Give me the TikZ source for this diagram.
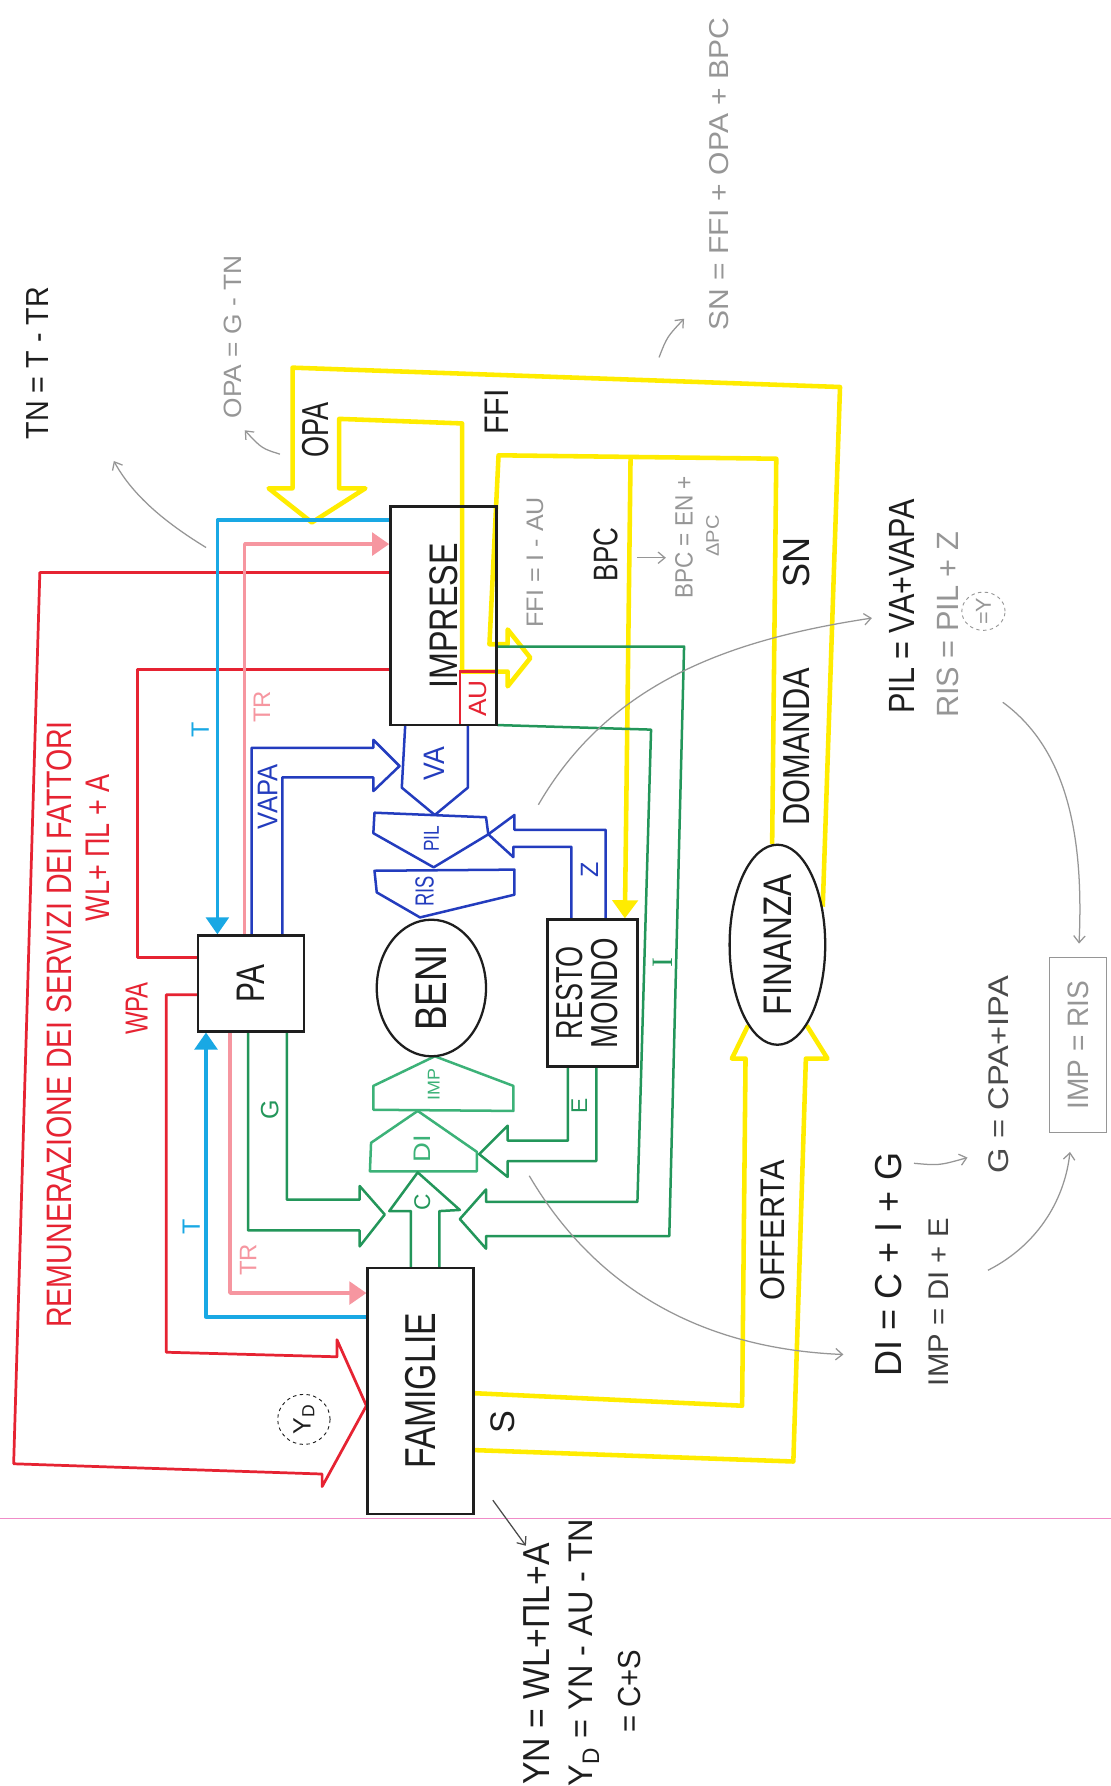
\documentclass[tikz,border=0pt]{standalone}
\usepackage{graphicx}
\usepackage{fontspec}
\setmainfont{Liberation Sans}
\newfontfamily\serifhand{Liberation Serif}
\usetikzlibrary{arrows.meta,shapes.geometric}
\pgfdeclarelayer{paper}
\pgfdeclarelayer{flows}
\pgfsetlayers{paper,flows,main}

\definecolor{ylw}{RGB}{255,236,0}
\definecolor{cyn}{RGB}{25,168,228}
\definecolor{pnk}{RGB}{246,150,160}
\definecolor{rd}{RGB}{230,35,50}
\definecolor{blu}{RGB}{35,60,190}
\definecolor{grn}{RGB}{35,150,90}
\definecolor{grnl}{RGB}{60,178,120}
\definecolor{gry}{RGB}{150,150,150}
\definecolor{rulecol}{RGB}{240,140,200}
\definecolor{ink}{RGB}{30,30,30}

% rotated label: size, horizontal squeeze, text
\newcommand\tx[3]{\rotatebox{90}{\fontsize{#1}{#1}\selectfont\scalebox{#2}[1]{#3}}}

\begin{document}
\begin{tikzpicture}[x=1pt,y=-1pt,
  box/.style={draw=ink, line width=2.2pt, rectangle, inner sep=0pt, text=ink},
  oval/.style={draw=ink, line width=2pt, ellipse, inner sep=0pt, text=ink},
  lbl/.style={inner sep=0pt},
  yl/.style={draw=ylw, line width=4pt, line join=round},
  bl/.style={draw=blu, line width=2.2pt, line join=round},
  gl/.style={draw=grn, line width=2.2pt, line join=round},
  rl/.style={draw=rd, line width=2.4pt, line join=round},
  cl/.style={draw=cyn, line width=3pt, line join=round},
  pl/.style={draw=pnk, line width=3pt, line join=round},
  note/.style={draw=gry, line width=1.1pt, -{Straight Barb[length=6pt,width=10pt]}},
  tipc/.style={-{Triangle[length=15pt,width=20pt]}},
]
\begin{pgfonlayer}{paper}
\path[fill=white, use as bounding box] (0,0) rectangle (976,1568);
\coordinate (ruleL) at (0,1334);
\coordinate (ruleR) at (976,1334);
\draw[draw=rulecol, line width=1.6pt] (ruleL) -- (ruleR);
\end{pgfonlayer}

% ---------- sectors ----------
\node[box, draw=rd, text=rd, line width=2pt, minimum width=32pt, minimum height=47pt] (au) at (420,613.5) {\tx{22}{1.05}{AU}};
\node[box, minimum width=93pt, minimum height=192pt] (imp) at (389.5,541) {\tx{35}{0.81}{IMPRESE}};
\node[box, minimum width=93pt, minimum height=84pt] (pa) at (220.5,864) {\tx{35}{0.75}{PA}};
\node[oval, minimum width=96pt, minimum height=120pt] (beni) at (379,868) {\tx{39}{0.83}{BENI}};
\node[box, minimum width=79pt, minimum height=129pt] (rm) at (520.5,872.5)
  {\rotatebox{90}{\fontsize{33}{33}\selectfont\begin{tabular}{@{}c@{}}\scalebox{0.72}[1]{RESTO}\\[-2pt]\scalebox{0.77}[1]{MONDO}\end{tabular}}};
\node[oval, minimum width=84pt, minimum height=154pt] (fin) at (683,830) {\tx{35}{0.83}{FINANZA}};
\node[box, minimum width=93pt, minimum height=216pt] (fam) at (369.5,1222) {\tx{38}{0.78}{FAMIGLIE}};

\begin{pgfonlayer}{flows}
% ---------- yellow: financial flows ----------
\draw[yl] (fin.40) -- (738,340) -- (257,323) -- (257,429) -- (236,429) -- (274,459) -- (321,429)
  -- (298,429) -- (298,368) -- (406,372) -- (406,590) -- (446,590) -- (446,603) -- (466,578)
  -- (446,553) -- (446,566) -- (430,566) -- (438,400) -- (682,403) -- (fin.93);
\draw[yl, -{Triangle[length=16pt,width=22pt]}] (554,401) -- (rm.north -| 549,0);
\draw[yl] (fam.east |- 0,1224) -- (652,1235) -- (655,930) -- (643,930) -- (fin.250);
\draw[yl] (fam.east |- 0,1274) -- (697,1284) -- (708,930) -- (727,930) -- (fin.290);

% ---------- red: factor incomes ----------
\draw[rl] (imp.west |- 0,503) -- (35,503) -- (12,1286) -- (283,1295) -- (283,1306) -- (fam.west |- 0,1235)
  -- (296,1177) -- (296,1192) -- (146,1188) -- (146,874) -- (pa.west |- 0,874);
\draw[rl] (imp.west |- 0,588) -- (121,588) -- (121,841) -- (pa.west |- 0,841);

% ---------- cyan: taxes ----------
\draw[cl, tipc] (imp.west |- 0,457) -- (191,457) -- (pa.north -| 191,0);
\draw[cl, tipc] (fam.west |- 0,1157) -- (181,1157) -- (pa.south -| 181,0);

% ---------- pink: transfers ----------
\draw[pl, tipc] (pa.north -| 215,0) -- (215,478) -- (imp.west |- 0,478);
\draw[pl, tipc] (pa.south -| 202,0) -- (202,1136) -- (fam.west |- 0,1136);

% ---------- blue: value added ----------
\draw[bl] (356,637) -- (353,692) -- (382,716) -- (411,692) -- (411,637);
\draw[bl] (329,714) -- (427,718) -- (429,733) -- (381,762) -- (328,732) -- cycle;
\draw[bl] (329,765) -- (452,764) -- (452,786) -- (369,806) -- (331,784) -- cycle;
\draw[bl] (rm.north -| 502,0) -- (502,744) -- (451,744) -- (451,753) -- (429,733) -- (452,716)
  -- (452,729) -- (532,729) -- (rm.north -| 532,0);
\draw[bl] (pa.north -| 221,0) -- (221,657) -- (328,657) -- (328,650) -- (351,673) -- (328,695)
  -- (328,683) -- (248,683) -- (pa.north -| 248,0);

% ---------- green: demand ----------
\draw[gl, draw=grnl] (382,928) -- (451,954) -- (451,976) -- (328,975) -- (328,954) -- cycle;
\draw[gl, draw=grnl] (367,976) -- (419,1012) -- (419,1029) -- (325,1029) -- (326,1004) -- cycle;
\draw[gl] (fam.north -| 361,0) -- (361,1064) -- (342,1064) -- (367,1030) -- (404,1063) -- (386,1064) -- (fam.north -| 386,0);
\draw[gl] (pa.south -| 218,0) -- (218,1081) -- (316,1081) -- (316,1095) -- (338,1067) -- (316,1042)
  -- (316,1054) -- (252,1054) -- (pa.south -| 252,0);
\draw[gl] (imp.east |- 0,568) -- (601,568) -- (588,1086) -- (427,1086) -- (427,1097) -- (404,1071)
  -- (427,1045) -- (427,1056) -- (560,1056) -- (572,641) -- (imp.east |- 0,637);
\draw[gl] (rm.south -| 499,0) -- (499,1002) -- (446,1002) -- (446,989) -- (421,1014) -- (446,1034)
  -- (446,1020) -- (524,1020) -- (rm.south -| 524,0);
\end{pgfonlayer}

% ---------- flow labels ----------
\node[lbl, text=blu] (lva) at (382,671) {\tx{26}{0.9}{VA}};
\node[lbl, text=blu] (lpil) at (379,737) {\tx{19}{0.8}{PIL}};
\node[lbl, text=blu] (lris) at (373,783) {\tx{23}{0.7}{RIS}};
\node[lbl, text=blu] (lz) at (518,764) {\tx{22}{1}{Z}};
\node[lbl, text=blu] (lvapa) at (235,700) {\tx{25}{0.9}{VAPA}};
\node[lbl, text=grnl] (limp) at (381,953) {\tx{15}{1.05}{IMP}};
\node[lbl, text=grnl] (ldi) at (371,1009) {\tx{21}{1.15}{DI}};
\node[lbl, text=grn] (lc) at (371,1056) {\tx{20}{1}{C}};
\node[lbl, text=grn] (lg) at (237,975) {\tx{22}{1}{G}};
\node[lbl, text=grn] (le) at (509,972) {\tx{20}{1}{E}};
\node[lbl, text=grn] (li) at (582,846) {\rotatebox{90}{\fontsize{26}{26}\selectfont\serifhand I}};
\node[lbl, text=cyn] (lt1) at (176,641) {\tx{22}{1}{T}};
\node[lbl, text=cyn] (lt2) at (168,1078) {\tx{22}{1}{T}};
\node[lbl, text=pnk] (ltr1) at (230,621) {\tx{21}{1}{TR}};
\node[lbl, text=pnk] (ltr2) at (218,1107) {\tx{21}{1}{TR}};
\node[lbl, text=rd] (lwpa) at (120,886) {\tx{28}{0.75}{WPA}};
\node[lbl, text=rd] (lrem) at (52,900) {\tx{31}{0.81}{REMUNERAZIONE DEI SERVIZI DEI FATTORI}};
\node[lbl, text=rd] (lwl) at (86,745) {\tx{30}{0.79}{WL+ ΠL + A}};
\node[lbl, text=ink] (lopa) at (277,378) {\tx{33}{0.72}{OPA}};
\node[lbl, text=ink] (lffi) at (436,362) {\tx{30}{0.89}{FFI}};
\node[lbl, text=ink] (lbpc) at (532,487) {\tx{30}{0.76}{BPC}};
\node[lbl, text=ink] (lsn) at (700,494) {\tx{33}{0.96}{SN}};
\node[lbl, text=ink] (ldom) at (700,656) {\tx{33}{0.82}{DOMANDA}};
\node[lbl, text=ink] (loff) at (679,1081) {\tx{30}{0.9}{OFFERTA}};
\node[lbl, text=ink] (ls) at (442,1249) {\tx{30}{1}{S}};
\node[draw=ink, dashed, line width=0.8pt, ellipse, inner sep=0pt, minimum width=46pt, minimum height=44pt, text=ink] (lyd) at (267,1247)
  {\rotatebox{90}{\fontsize{22}{22}\selectfont Y\textsubscript{D}}};

% ---------- equations ----------
\node[lbl, text=ink] (eqtn) at (33,319) {\tx{28}{0.9}{TN = T - TR}};
\node[lbl, text=gry] (eqopa) at (205,296) {\tx{22}{1.05}{OPA = G - TN}};
\node[lbl, text=gry] (eqsn) at (632,153) {\tx{24}{1.1}{SN = FFI + OPA + BPC}};
\node[lbl, text=gry] (eqffi) at (470,494) {\tx{21}{1.05}{FFI = I - AU}};
\node[lbl, text=gry] (eqbpc) at (601,472) {\tx{22}{0.9}{BPC = EN +}};
\node[lbl, text=gry] (eqdpc) at (626,471) {\tx{16}{1.1}{ΔPC}};
\node[lbl, text=ink] (eqpil) at (792,533) {\tx{32}{0.84}{PIL = VA+VAPA}};
\node[lbl, text=gry] (eqris) at (833,549) {\tx{27}{1.0}{RIS = PIL + Z}};
\node[draw=gry, dashed, line width=0.8pt, ellipse, inner sep=0pt, minimum width=38pt, minimum height=32pt, text=gry] (eqy) at (864,537) {\tx{19}{1}{=Y}};
\node[draw=gry, line width=1pt, rectangle, inner sep=0pt, minimum width=50pt, minimum height=154pt, text=gry] (eqimpr) at (947,918) {\tx{26}{0.95}{IMP = RIS}};
\node[lbl, text=ink!80] (eqg) at (877,944) {\tx{25}{1.15}{G = CPA+IPA}};
\node[lbl, text=ink] (eqdi) at (781,1111) {\tx{33}{0.96}{DI = C + I + G}};
\node[lbl, text=ink!85] (eqimp) at (825,1144) {\tx{25}{1.03}{IMP = DI + E}};
\node[lbl, text=ink] (eqyn) at (471,1462) {\tx{33}{0.9}{YN = WL+ΠL+A}};
\node[lbl, text=ink] (eqyd) at (513,1452) {\tx{30}{0.95}{Y\textsubscript{D} = YN - AU - TN}};
\node[lbl, text=ink] (eqcs) at (553,1486) {\tx{28}{0.92}{= C+S}};

% ---------- pencil pointers ----------
\coordinate (p1a) at (181,481);  \coordinate (p1b) at (100,405);
\draw[note] (p1a) .. controls (150,462) and (118,438) .. (p1b);
\coordinate (p2a) at (246,399);  \coordinate (p2b) at (215,378);
\draw[note] (p2a) .. controls (230,394) .. (p2b);
\coordinate (p3a) at (579,314);  \coordinate (p3b) at (601,280);
\draw[note] (p3a) .. controls (586,296) .. (p3b);
\coordinate (p4a) at (473,707);  \coordinate (p4b) at (766,543);
\draw[note] (p4a) .. controls (535,600) and (640,562) .. (p4b);
\coordinate (p5a) at (881,617);  \coordinate (p5b) at (948,829);
\draw[note] (p5a) .. controls (940,660) and (952,740) .. (p5b);
\coordinate (p6a) at (465,1033); \coordinate (p6b) at (741,1190);
\draw[note] (p6a) .. controls (525,1135) and (620,1185) .. (p6b);
\coordinate (p7a) at (803,1022); \coordinate (p7b) at (850,1017);
\draw[note] (p7a) .. controls (825,1024) .. (p7b);
\coordinate (p8a) at (868,1116); \coordinate (p8b) at (940,1012);
\draw[note] (p8a) .. controls (915,1092) and (936,1050) .. (p8b);
\coordinate (p9a) at (560,490);  \coordinate (p9b) at (585,490);
\draw[note] (p9a) -- (p9b);
\coordinate (p10a) at (433,1318); \coordinate (p10b) at (462,1358);
\draw[note, draw=ink!80] (p10a) -- (p10b);
\end{tikzpicture}
\end{document}
